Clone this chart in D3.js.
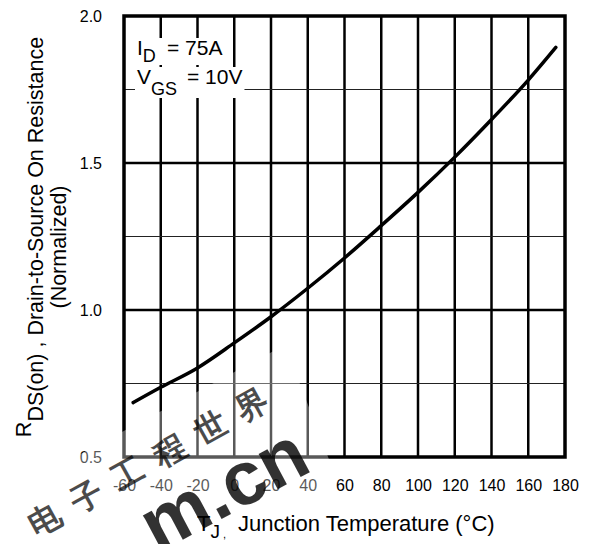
<!DOCTYPE html>
<html>
<head>
<meta charset="utf-8">
<script src="https://cdn.jsdelivr.net/npm/d3@7"></script>
<style>
  body { margin: 0; background: #fff; }
  svg { display: block; }
  text { font-family: "Liberation Sans", Arial, Helvetica, sans-serif; fill: #000; }
</style>
</head>
<body>
<svg id="chart" width="593" height="544"></svg>
<script>
// Normalized on-resistance versus junction temperature
const temperatures = [-55, -40, -20, 0, 20, 40, 60, 80, 100, 120, 140, 160, 175];
const rdsOnNormalized = [0.685, 0.737, 0.803, 0.888, 0.977, 1.074, 1.177, 1.287, 1.400, 1.520, 1.648, 1.782, 1.893];

const xTickValues = [-60, -40, -20, 0, 20, 40, 60, 80, 100, 120, 140, 160, 180];
const yTickValues = [0.5, 1.0, 1.5, 2.0];
const yMajorGrid = [1.0, 1.5];
const yMinorGrid = [0.75, 1.25, 1.75];

const conditionMain = ["I", "V"];
const conditionSub = ["D", "GS"];
const conditionRest = ["= 75A", "= 10V"];

const watermarkChars = ["电", "子", "工", "程", "世", "界"];
const watermarkUrl = "m.cn";

const svg = d3.select("#chart");
const plot = { left: 124, right: 565, top: 16, bottom: 457 };

const x = d3.scaleLinear().domain([-60, 180]).range([plot.left, plot.right]);
const y = d3.scaleLinear().domain([0.5, 2.0]).range([plot.bottom, plot.top]);

// grid
const grid = svg.append("g");
grid.selectAll("line.v").data(xTickValues.slice(1, -1)).join("line")
  .attr("x1", d => x(d)).attr("x2", d => x(d))
  .attr("y1", plot.top).attr("y2", plot.bottom)
  .attr("stroke", "#000").attr("stroke-width", 2.5);
grid.selectAll("line.hmaj").data(yMajorGrid).join("line")
  .attr("x1", plot.left).attr("x2", plot.right)
  .attr("y1", d => y(d)).attr("y2", d => y(d))
  .attr("stroke", "#000").attr("stroke-width", 2.5);
grid.selectAll("line.hmin").data(yMinorGrid).join("line")
  .attr("x1", plot.left).attr("x2", plot.right)
  .attr("y1", d => y(d)).attr("y2", d => y(d))
  .attr("stroke", "#222").attr("stroke-width", 1.2);

// test conditions, each line on a white backing box
const legend = svg.append("g");
const legendBaselines = [55, 84];
const legendSubShift = [7, 11];
const legendRestX = [167, 187];
conditionMain.forEach((m, i) => {
  const t = legend.append("text")
    .attr("x", 137).attr("y", legendBaselines[i])
    .attr("font-size", 21);
  t.append("tspan").text(m);
  t.append("tspan").attr("dy", legendSubShift[i]).attr("font-size", 18).text(conditionSub[i]);
  t.append("tspan").attr("x", legendRestX[i]).attr("dy", -legendSubShift[i]).text(conditionRest[i]);
  const bb = t.node().getBBox();
  legend.insert("rect", () => t.node())
    .attr("x", bb.x - 2).attr("y", bb.y + 2)
    .attr("width", bb.width + 4).attr("height", bb.height - 3)
    .attr("fill", "#fff");
});

// frame
svg.append("rect")
  .attr("x", plot.left).attr("y", plot.top)
  .attr("width", plot.right - plot.left).attr("height", plot.bottom - plot.top)
  .attr("fill", "none").attr("stroke", "#000").attr("stroke-width", 3.5);

// curve
const line = d3.line()
  .x((d, i) => x(temperatures[i]))
  .y(d => y(d))
  .curve(d3.curveMonotoneX);
svg.append("path")
  .datum(rdsOnNormalized)
  .attr("d", line)
  .attr("fill", "none").attr("stroke", "#000")
  .attr("stroke-width", 3.5).attr("stroke-linecap", "round");

// axes (labels only)
const xAxis = d3.axisBottom(x).tickValues(xTickValues).tickSize(0).tickPadding(23)
  .tickFormat(d => String(d));
const gx = svg.append("g").attr("transform", `translate(0,${plot.bottom})`).call(xAxis);
gx.select(".domain").remove();
gx.selectAll("text").attr("font-size", 16).attr("font-family", null).attr("fill", "#000");

const yAxis = d3.axisLeft(y).tickValues(yTickValues).tickSize(0).tickPadding(22)
  .tickFormat(d3.format(".1f"));
const gy = svg.append("g").attr("transform", `translate(${plot.left},0)`).call(yAxis);
gy.select(".domain").remove();
gy.selectAll("text").attr("font-size", 16).attr("font-family", null).attr("fill", "#000");

// axis titles
const xt = svg.append("text").attr("x", 197).attr("y", 531).attr("font-size", 22);
xt.append("tspan").text("T");
xt.append("tspan").attr("dy", 7).attr("font-size", 19).text("J");
xt.append("tspan").attr("font-size", 11).attr("dx", 3).text(",");
xt.append("tspan").attr("x", 238).attr("dy", -7).text("Junction Temperature (°C)");

const yt = svg.append("text")
  .attr("transform", "translate(31,237) rotate(-90)")
  .attr("text-anchor", "middle").attr("font-size", 21.5);
yt.append("tspan").text("R");
yt.append("tspan").attr("dy", 12).text("DS(on)");
yt.append("tspan").text(" , Drain-to-Source On Resistance");

svg.append("text")
  .attr("transform", "translate(66,247) rotate(-90)")
  .attr("text-anchor", "middle").attr("font-size", 21.5)
  .text("(Normalized)");

// site watermark: light haze, grey calligraphy and red web address
const wm = svg.append("g").attr("pointer-events", "none");
wm.append("polygon")
  .attr("points", "60,465 285,345 330,462 325,502 100,506 60,500")
  .attr("fill", "#fff").attr("opacity", 0.35);
const wmStart = [45, 520], wmStep = [41.4, -23];
wm.selectAll("text.cjk").data(watermarkChars).join("text")
  .attr("class", "cjk")
  .attr("transform", (d, i) =>
    `translate(${wmStart[0] + i * wmStep[0]},${wmStart[1] + i * wmStep[1]}) rotate(-29)`)
  .attr("text-anchor", "middle").attr("dominant-baseline", "central")
  .attr("font-family", "'Noto Sans CJK SC', sans-serif")
  .attr("font-weight", 700).attr("font-size", 32)
  .attr("fill", "#9a9a9a").attr("opacity", 0.7)
  .text(d => d);
wm.append("text")
  .attr("transform", "translate(314,470) rotate(-28)")
  .attr("text-anchor", "end")
  .attr("font-family", "'Liberation Sans', Arial, sans-serif")
  .attr("font-weight", 700).attr("font-size", 76)
  .attr("fill", "#e01818").attr("opacity", 0.8)
  .text(watermarkUrl);
</script>
</body>
</html>
